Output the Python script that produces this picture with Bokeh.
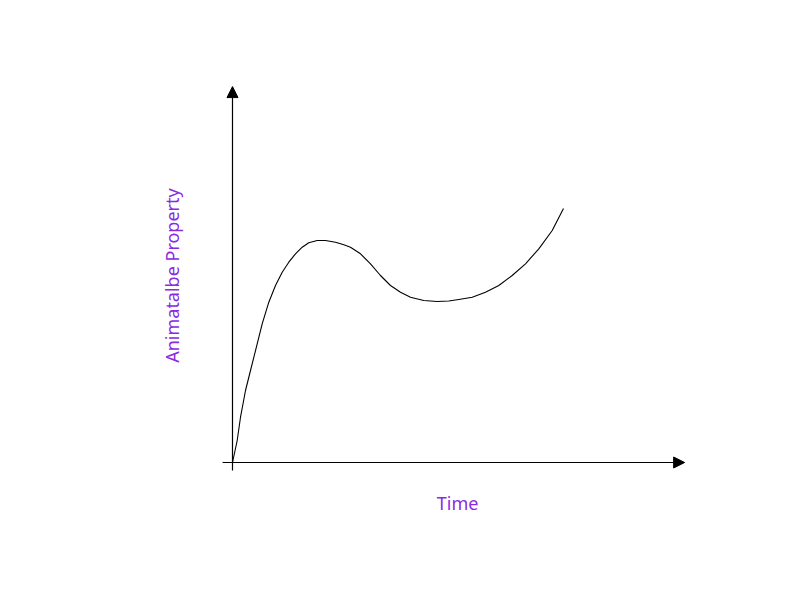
import math
from bokeh.plotting import figure
from bokeh.models import Arrow, NormalHead, Label
from bokeh.embed import file_html
from bokeh.resources import INLINE

# curve
time = [0, 0.142, 0.242, 0.393, 0.544, 0.695, 0.897, 1.097, 1.299, 1.502, 1.701,
        1.903, 2.106, 2.305, 2.559, 2.810, 3.112, 3.363, 3.565, 3.867, 4.169,
        4.471, 4.773, 5.076, 5.378, 5.779, 6.184, 6.535, 6.837, 7.242, 7.644,
        8.045, 8.450, 8.852, 9.254, 9.659, 10.0]
prop = [0, 0.866, 1.783, 2.835, 3.622, 4.409, 5.461, 6.311, 6.969, 7.492, 7.886,
        8.217, 8.476, 8.650, 8.740, 8.740, 8.673, 8.571, 8.476, 8.217, 7.823,
        7.362, 6.969, 6.705, 6.508, 6.378, 6.339, 6.358, 6.417, 6.508, 6.705,
        6.969, 7.362, 7.823, 8.413, 9.134, 10.0]

# axis extents (data units)
x_axis_start, x_axis_end = -0.30, 13.66
y_axis_start, y_axis_end = -0.31, 14.80

x_label = "Time"
y_label = "Animatalbe Property"
label_color = "#8a2be2"

p = figure(width=784, height=584, x_range=(-7.009, 16.677), y_range=(-4.803, 18.189),
           x_axis_type=None, y_axis_type=None, output_backend="svg",
           toolbar_location=None, min_border=0)
p.grid.visible = False
p.outline_line_color = None

p.line(time, prop, line_color="black", line_width=1.1, line_join="round")

p.add_layout(Arrow(end=NormalHead(size=11, fill_color="black", line_color="black"),
                   x_start=x_axis_start, y_start=0, x_end=x_axis_end, y_end=0,
                   line_color="black", line_width=1.2))
p.add_layout(Arrow(end=NormalHead(size=11, fill_color="black", line_color="black"),
                   x_start=0, y_start=y_axis_start, x_end=0, y_end=y_axis_end,
                   line_color="black", line_width=1.2))

p.add_layout(Label(x=6.80, y=-1.575, text=x_label, text_color=label_color,
                   text_font="Noto Sans", text_font_size="18px",
                   text_align="center", text_baseline="middle"))
p.add_layout(Label(x=-1.84, y=7.36, text=y_label, text_color=label_color,
                   text_font="Noto Sans", text_font_size="18px", angle=math.pi / 2,
                   text_align="center", text_baseline="middle"))

open("out.html", "w").write(file_html(p, INLINE))
